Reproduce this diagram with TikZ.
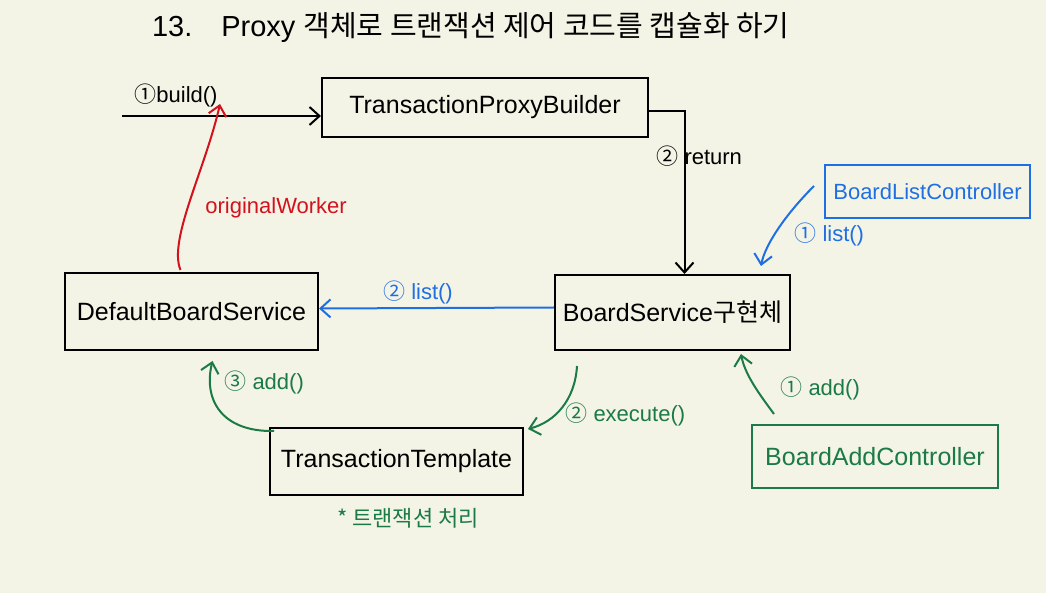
\documentclass[tikz,border=0pt]{standalone}
\usepackage{fontspec}
\setmainfont{Liberation Sans}
\newfontfamily\kor{Noto Sans CJK KR}
\usetikzlibrary{arrows.meta,calc,positioning}
\definecolor{paper}{HTML}{F4F4E6}
\definecolor{penblue}{HTML}{1F6FE3}
\definecolor{penred}{HTML}{D3121E}
\definecolor{pengreen}{HTML}{1B7A45}
\newcommand{\cn}[1]{{\kor #1}}

\begin{document}
\begin{tikzpicture}[x=0.5pt,y=-0.5pt,
    box/.style={draw,line width=1pt,inner sep=0pt,font=\fontsize{12.5}{15}\selectfont},
    lbl/.style={font=\fontsize{11}{13}\selectfont,inner sep=1pt},
    pen/.style={line width=1pt,-{Straight Barb[length=5pt,width=9pt]}}]
  \useasboundingbox[fill=paper] (0,0) rectangle (1046,593);
  % title
  \node[anchor=west,font=\fontsize{14.5}{17}\selectfont] (title) at (145,28)
      {13.\quad Proxy {\kor 객체로 트랜잭션 제어 코드를 캡슐화 하기}};
  % classes
  \node[box,minimum width=163pt,minimum height=29.5pt] (tpb) at (485,107.5) {TransactionProxyBuilder};
  \node[box,minimum width=126.5pt,minimum height=38.5pt] (dbs) at (191.5,311.5) {DefaultBoardService};
  \node[box,minimum width=117.5pt,minimum height=37.5pt] (bs) at (672.5,312.5) {BoardService{\kor 구현체}};
  \node[box,minimum width=126.5pt,minimum height=33.5pt] (tt) at (396.5,461.5) {TransactionTemplate};
  \node[box,penblue,minimum width=102.5pt,minimum height=26.5pt,font=\fontsize{11}{13}\selectfont] (blc) at (927.5,191.5) {BoardListController};
  \node[box,pengreen,minimum width=123pt,minimum height=31.5pt] (bac) at (875,456.5) {BoardAddController};
  \node[lbl,pengreen] (note) at (408,518) {\cn{* 트랜잭션 처리}};
  % build() call
  \coordinate (bstart) at (122,116);
  \draw[pen] (bstart) -- (bstart -| tpb.west);
  \node[lbl] (lbuild) at (176,95) {\cn{①}build()};
  % return
  \draw[pen] ($(tpb.east)+(0,4)$) -| ($(bs.north)+(12,0)$);
  \node[lbl,anchor=west] (lret) at (654,156) {\cn{②} return};
  % originalWorker
  \coordinate (rtip) at (220,104);
  \draw[pen,penred] ($(dbs.north)+(-11,-2)$) .. controls (168,240) and (205,170) .. (rtip);
  \node[lbl,penred,anchor=west] (lorig) at (203,208) {originalWorker};
  % list()
  \draw[pen,penblue] ($(bs.north west)+(260,-88)$) .. controls (785,215) and (765,245) .. ($(bs.north east)+(-30,-8)$);
  \node[lbl,penblue,anchor=west] (llist1) at (792,234) {\cn{①} list()};
  \draw[pen,penblue] ($(bs.west)+(0,-5)$) -- ($(dbs.east)+(0,-3)$);
  \node[lbl,penblue] (llist2) at (418,292) {\cn{②} list()};
  % add()
  \draw[pen,pengreen] ($(bac.north west)+(23,-10)$) .. controls (760,395) and (745,375) .. ($(bs.south east)+(-50,3)$);
  \node[lbl,pengreen,anchor=west] (ladd1) at (778,388) {\cn{①} add()};
  \draw[pen,pengreen] ($(bs.south west)+(23,15)$) .. controls (575,400) and (555,422) .. ($(tt.north east)+(4,2)$);
  \node[lbl,pengreen,anchor=west] (lexec) at (563,414) {\cn{②} execute()};
  \draw[pen,pengreen] ($(tt.north west)+(5,4)$) .. controls (222,432) and (203,400) .. ($(dbs.south)+(21,10)$);
  \node[lbl,pengreen,anchor=west] (ladd3) at (222,382) {\cn{③} add()};
\end{tikzpicture}
\end{document}
